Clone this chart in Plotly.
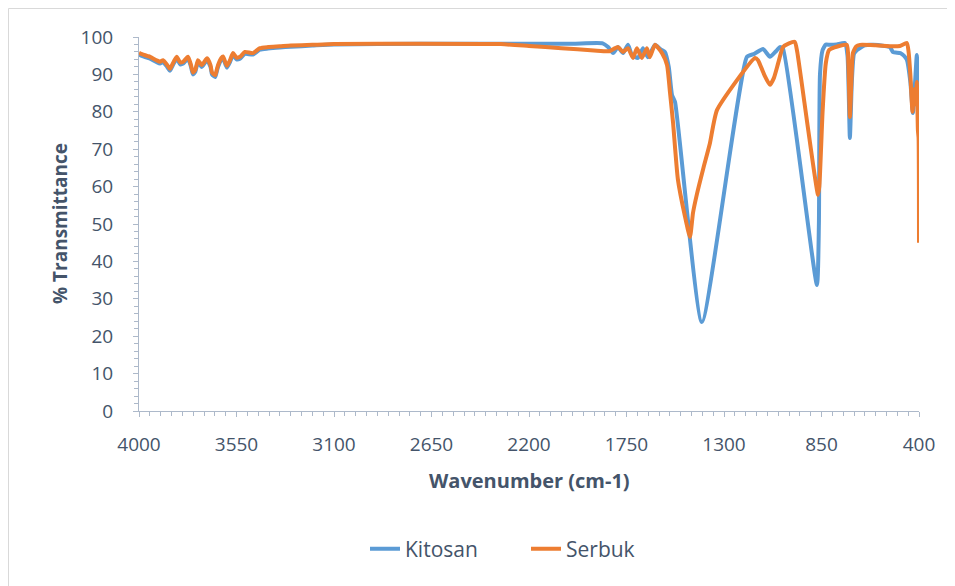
import plotly.graph_objects as go

# Kitosan (blue)
kitosan_wn = [4000, 3990, 3960, 3949, 3920, 3903, 3889, 3870, 3857, 3845, 3826, 3810, 3796, 3774,
              3760, 3751, 3740, 3728, 3710, 3686, 3670, 3663, 3648, 3640, 3635, 3620, 3612, 3600,
              3594, 3580, 3566, 3550, 3534, 3511, 3474, 3442, 3405, 3350, 3300, 3200, 3100, 2700,
              2300, 2000, 1860, 1835, 1812, 1789, 1766, 1743, 1725, 1697, 1674, 1651, 1619, 1590,
              1573, 1555, 1540, 1526, 1402, 1194,
              1160, 1120, 1088, 1060, 1042, 1028, 871, 862, 857,
              845, 830, 811, 780, 742, 730, 719, 710, 700, 686, 650, 612, 560, 534, 520, 486, 470,
              456, 440, 428, 418, 410, 405, 400]
kitosan_t = [95.3, 95.0, 94.4, 94.2, 93.3, 92.9, 93.3, 92.0, 91.0, 92.3, 94.2, 92.7, 92.9, 94.2,
             92.0, 90.0, 90.7, 93.3, 92.0, 93.8, 92.0, 90.0, 89.3, 91.0, 92.0, 93.9, 94.3, 92.5,
             91.8, 93.3, 95.2, 94.0, 94.2, 95.5, 95.3, 96.6, 96.9, 97.2, 97.4, 97.7, 98.0, 98.2,
             98.2, 98.2, 98.3, 97.3, 95.7, 97.3, 95.7, 97.9, 95.2, 94.4, 97.0, 94.6, 97.9, 96.6,
             96.0, 92.0, 84.5, 82.6, 23.8, 94.7,
             95.5, 96.8, 94.7, 96.2, 97.3, 97.0, 33.7, 50.0, 90.0,
             96.5, 98.0, 97.9, 98.0, 98.4, 95.0, 73.0, 88.0, 95.5, 96.5, 97.8, 97.9, 97.6, 97.3,
             96.0, 95.7, 95.0, 93.9, 88.0, 79.7, 88.0, 95.2, 85.0, 75.0]

# Serbuk (orange)
serbuk_wn = [4000, 3990, 3960, 3949, 3920, 3903, 3889, 3870, 3857, 3845, 3826, 3810, 3796, 3774,
             3760, 3751, 3740, 3728, 3710, 3686, 3670, 3663, 3648, 3640, 3635, 3620, 3612, 3600,
             3594, 3580, 3566, 3550, 3534, 3511, 3474, 3442, 3405, 3350, 3300, 3200, 3100, 2700,
             2330, 2200, 2050, 1900, 1830, 1810, 1789, 1766, 1743, 1720, 1702, 1679, 1656, 1642,
             1619, 1586, 1563, 1549, 1535, 1513, 1480, 1457, 1443, 1425, 1395, 1365, 1332,
             1157, 1143, 1115, 1088, 1070, 1050, 1028, 1000, 973, 962, 866,
             860, 845, 830, 815, 790, 733, 726, 719, 712, 705, 690, 672, 600, 520, 488, 456, 448,
             440, 430, 422, 415, 410, 405, 402, 400]
serbuk_t = [95.8, 95.5, 94.9, 94.7, 93.8, 93.4, 93.8, 92.5, 91.5, 92.8, 94.7, 93.2, 93.4, 94.7,
            92.5, 90.5, 91.2, 93.8, 92.5, 94.3, 92.5, 90.5, 89.8, 91.5, 92.5, 94.4, 94.8, 93.0,
            92.3, 93.8, 95.7, 94.5, 94.7, 96.0, 95.7, 97.0, 97.3, 97.5, 97.7, 97.9, 98.1, 98.2,
            98.1, 97.6, 97.0, 96.4, 96.2, 96.8, 97.3, 96.0, 97.0, 94.4, 97.0, 94.4, 97.0, 94.6,
            97.9, 95.7, 92.5, 85.0, 77.0, 62.0, 52.0, 46.5, 53.0, 58.0, 65.0, 71.6, 80.5,
            94.4, 93.8, 90.0, 87.2, 89.0, 93.0, 97.3, 98.3, 98.7, 96.0, 57.8,
            60.0, 80.0, 93.0, 96.5, 97.2, 97.9, 93.0, 78.6, 88.0, 95.7, 97.5, 97.9, 97.8, 97.5,
            97.6, 98.4, 96.0, 90.0, 80.0, 86.0, 82.0, 88.0, 75.0, 73.0, 45.0]

x_ticks = [4000, 3550, 3100, 2650, 2200, 1750, 1300, 850, 400]

FONT = "Open Sans, sans-serif"
TXT = "#44546A"
AX = "#ADB9CA"

# page body has an 8px margin, so the figure is offset by (8, 8)
W, H = 947, 578
L, R, T, B = 131, 36, 29, 175
PW, PH = W - L - R, H - T - B


def px(xp):
    return (xp - 8 - L) / PW


def py(yp):
    return (H - B + 8 - yp) / PH


fig = go.Figure()
fig.add_trace(go.Scatter(x=kitosan_wn, y=kitosan_t, name="Kitosan", mode="lines",
                         line=dict(color="#5B9BD5", width=4, shape="spline", smoothing=0.5)))
fig.add_trace(go.Scatter(x=serbuk_wn, y=serbuk_t, name="Serbuk", mode="lines",
                         line=dict(color="#ED7D31", width=4, shape="spline", smoothing=0.5)))

fig.update_layout(
    width=W, height=H,
    margin=dict(l=L, r=R, t=T, b=B),
    paper_bgcolor="white", plot_bgcolor="white",
    font=dict(family=FONT, color=TXT, size=19),
    showlegend=True,
    legend=dict(orientation="h", x=px(526), y=py(549), xanchor="center", yanchor="middle",
                font=dict(size=21, color=TXT), itemwidth=30, entrywidth=116,
                bgcolor="rgba(0,0,0,0)"),
    xaxis=dict(range=[4000, 400], tickmode="array", tickvals=x_ticks,
               ticktext=[str(v) for v in x_ticks],
               showgrid=False, zeroline=False, showline=True, linecolor=AX, linewidth=1,
               ticks="outside", ticklen=5, tickcolor=AX, ticklabelstandoff=11,
               tickfont=dict(size=19, color=TXT),
               minor=dict(dtick=50, tick0=400, ticks="outside", ticklen=4, tickcolor=AX)),
    yaxis=dict(range=[0, 100], dtick=10, tick0=0,
               showgrid=False, zeroline=False, showline=True, linecolor=AX, linewidth=1,
               ticks="outside", ticklen=5, tickcolor=AX, ticklabelstandoff=16,
               tickfont=dict(size=19, color=TXT),
               minor=dict(dtick=2, ticks="outside", ticklen=4, tickcolor=AX)),
    annotations=[
        dict(text="<b>Wavenumber (cm-1)</b>", xref="paper", yref="paper",
             x=px(529), y=py(480), xanchor="center", yanchor="middle",
             showarrow=False, font=dict(size=20, color=TXT)),
        dict(text="<b>% Transmittance</b>", xref="paper", yref="paper",
             x=px(60), y=py(224), xanchor="center", yanchor="middle", textangle=-90,
             showarrow=False, font=dict(size=19, color=TXT)),
    ],
    shapes=[
        dict(type="rect", xref="paper", yref="paper",
             x0=px(8.5), x1=px(1100), y0=py(900), y1=py(8.5),
             line=dict(color="#D9D9D9", width=1), fillcolor="rgba(0,0,0,0)", layer="below"),
    ],
)

fig.write_html("out.html")
